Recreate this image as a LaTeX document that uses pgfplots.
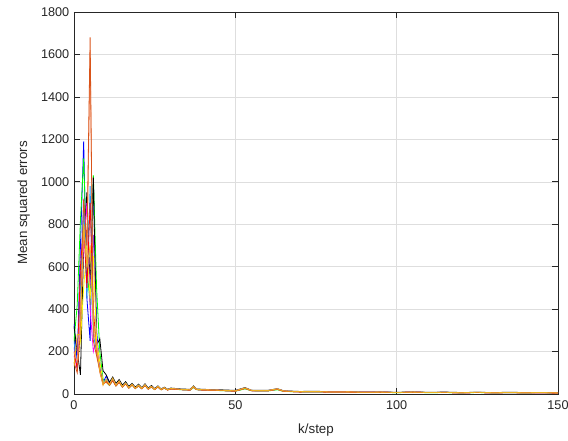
\documentclass[border=0pt]{standalone}
\usepackage{pgfplots}
\pgfplotsset{compat=1.18}
\usetikzlibrary{calc}
\usepackage{fontspec}
\setmainfont{Liberation Sans}
\definecolor{axgray}{rgb}{0.15,0.15,0.15}
\definecolor{c1}{rgb}{0,0,1}
\definecolor{c2}{rgb}{0,1,0}
\definecolor{c3}{rgb}{0,0,0}
\definecolor{c4}{rgb}{0.85,0.325,0.098}
\definecolor{c5}{rgb}{0.96,0.6,0.45}
\definecolor{c6}{rgb}{1,0,1}
\definecolor{c7}{rgb}{1,1,0}
\definecolor{c8}{rgb}{0.1,0.6,0.95}
\definecolor{c9}{rgb}{1,0,0}
\definecolor{c10}{rgb}{0.55,0.25,0.85}
\definecolor{c11}{rgb}{0.929,0.694,0.125}
\begin{document}
\begin{tikzpicture}
\begin{axis}[
  scale only axis,
  width=363pt, height=286.5pt,
  xmin=0, xmax=150, ymin=0, ymax=1800,
  xtick={0,50,100,150}, ytick={0,200,...,1800},
  tick align=inside, tick pos=both,
  major tick length=4.5pt,
  grid=major,
  major grid style={color=black!13, line width=0.4pt},
  axis line style={color=axgray, line width=0.5pt},
  every tick/.style={color=axgray, line width=0.5pt},
  tick label style={font=\fontsize{9.5}{11}\selectfont, color=axgray},
  xticklabel style={yshift=-1.5pt},
  label style={font=\fontsize{10}{12}\selectfont, color=axgray},
  /pgf/number format/assume math mode=true,
  scaled y ticks=false,
  yticklabel style={/pgf/number format/1000 sep={}},
  xlabel={k/step}, ylabel={Mean squared errors},
  xlabel style={yshift=-4pt},
  ylabel style={yshift=1.5pt},
  every axis plot/.append style={line width=0.6pt, mark=none},
]
\addplot[c1] coordinates {(0,330)(1,150)(2,700)(3,1190)(4,450)(5,250)(6,1020)(7,300)(8,120)(9,55)(10,85)(11,48)(12,70)(13,40)(14,58)(15,36)(16,50)(17,30)(18,44)(19,29)(20,40)(21,26)(22,42)(23,25)(24,35)(25,23)(26,34)(27,21)(28,29)(29,20)(30,25)(33,21)(36,19)(37,33)(38,21)(40,19)(45,17)(50,14)(53,26)(55,16)(60,15)(63,22)(65,13)(70,10)(75,11)(80,9)(85,9)(90,8)(95,8)(100,7)(105,8)(110,7)(115,7)(120,6)(125,7)(130,6)(135,6)(140,6)(145,6)(150,5)};
\addplot[c2] coordinates {(0,250)(1,420)(2,820)(3,1110)(4,600)(5,420)(6,1030)(7,500)(8,200)(9,70)(10,55)(11,40)(12,65)(13,38)(14,55)(15,32)(16,48)(17,28)(18,42)(19,26)(20,38)(21,25)(22,40)(23,23)(24,33)(25,21)(26,33)(27,20)(28,27)(29,19)(30,24)(33,20)(36,18)(37,30)(38,20)(40,18)(45,16)(50,13)(53,24)(55,15)(60,14)(63,20)(65,12)(70,10)(75,10)(80,8)(85,9)(90,7)(95,8)(100,6)(105,8)(110,6)(115,7)(120,5)(125,7)(130,5)(135,6)(140,5)(145,6)(150,4)};
\addplot[c3] coordinates {(0,320)(1,200)(2,90)(3,700)(4,950)(5,500)(6,1020)(7,230)(8,260)(9,110)(10,90)(11,55)(12,80)(13,50)(14,68)(15,42)(16,58)(17,36)(18,50)(19,32)(20,46)(21,30)(22,48)(23,28)(24,40)(25,25)(26,38)(27,24)(28,32)(29,22)(30,28)(33,24)(36,22)(37,38)(38,24)(40,22)(45,20)(50,17)(53,30)(55,18)(60,17)(63,25)(65,15)(70,12)(75,13)(80,10)(85,11)(90,9)(95,10)(100,8)(105,10)(110,8)(115,9)(120,7)(125,8)(130,7)(135,8)(140,7)(145,7)(150,6)};
\addplot[c10] coordinates {(0,220)(1,130)(2,550)(3,900)(4,700)(5,500)(6,750)(7,250)(8,150)(9,60)(10,62)(11,44)(12,72)(13,41)(14,60)(15,34)(16,51)(17,29)(18,45)(19,27)(20,41)(21,26)(22,43)(23,24)(24,35)(25,22)(26,35)(27,21)(28,29)(29,20)(30,25)(33,21)(36,19)(37,35)(38,21)(40,19)(45,17)(50,15)(53,27)(55,16)(60,15)(63,23)(65,13)(70,11)(75,11)(80,9)(85,9)(90,8)(95,9)(100,7)(105,8)(110,7)(115,8)(120,6)(125,7)(130,6)(135,7)(140,6)(145,6)(150,5)};
\addplot[c6] coordinates {(0,180)(1,120)(2,400)(3,700)(4,900)(5,400)(6,200)(7,260)(8,120)(9,45)(10,58)(11,43)(12,70)(13,40)(14,58)(15,33)(16,49)(17,29)(18,44)(19,27)(20,40)(21,26)(22,42)(23,24)(24,34)(25,22)(26,34)(27,21)(28,29)(29,19)(30,25)(33,21)(36,19)(37,34)(38,21)(40,19)(45,17)(50,14)(53,27)(55,16)(60,15)(63,23)(65,13)(70,10)(75,11)(80,9)(85,9)(90,8)(95,8)(100,7)(105,8)(110,7)(115,7)(120,6)(125,7)(130,6)(135,6)(140,6)(145,6)(150,5)};
\addplot[c7] coordinates {(0,150)(1,150)(2,250)(3,500)(4,700)(5,450)(6,650)(7,250)(8,150)(9,60)(10,55)(11,44)(12,68)(13,40)(14,57)(15,33)(16,48)(17,28)(18,43)(19,26)(20,39)(21,25)(22,41)(23,23)(24,34)(25,21)(26,34)(27,20)(28,28)(29,19)(30,24)(33,21)(36,19)(37,33)(38,21)(40,19)(45,17)(50,14)(53,26)(55,16)(60,15)(63,22)(65,13)(70,10)(75,11)(80,9)(85,9)(90,8)(95,8)(100,7)(105,8)(110,7)(115,7)(120,6)(125,7)(130,6)(135,6)(140,6)(145,6)(150,5)};
\addplot[c8] coordinates {(0,250)(1,120)(2,500)(3,900)(4,450)(5,980)(6,280)(7,200)(8,120)(9,50)(10,70)(11,46)(12,72)(13,42)(14,60)(15,35)(16,52)(17,30)(18,46)(19,28)(20,42)(21,27)(22,44)(23,25)(24,36)(25,22)(26,36)(27,22)(28,30)(29,20)(30,26)(33,22)(36,20)(37,36)(38,22)(40,20)(45,18)(50,15)(53,28)(55,17)(60,16)(63,24)(65,14)(70,11)(75,12)(80,9)(85,10)(90,8)(95,9)(100,7)(105,9)(110,7)(115,8)(120,6)(125,8)(130,6)(135,7)(140,6)(145,7)(150,5)};
\addplot[c9] coordinates {(0,200)(1,120)(2,600)(3,800)(4,500)(5,900)(6,400)(7,200)(8,110)(9,50)(10,58)(11,42)(12,66)(13,38)(14,56)(15,33)(16,48)(17,28)(18,43)(19,26)(20,39)(21,25)(22,41)(23,23)(24,34)(25,21)(26,34)(27,20)(28,28)(29,19)(30,24)(33,21)(36,19)(37,34)(38,21)(40,19)(45,17)(50,14)(53,27)(55,16)(60,15)(63,23)(65,13)(70,10)(75,11)(80,9)(85,9)(90,8)(95,8)(100,7)(105,8)(110,7)(115,7)(120,6)(125,7)(130,6)(135,7)(140,6)(145,6)(150,5)};
\addplot[c5] coordinates {(0,200)(1,150)(2,400)(3,800)(4,600)(5,1620)(6,300)(7,220)(8,100)(9,50)(10,60)(11,43)(12,64)(13,39)(14,57)(15,34)(16,49)(17,29)(18,44)(19,27)(20,40)(21,26)(22,42)(23,24)(24,35)(25,22)(26,35)(27,21)(28,29)(29,20)(30,25)(33,22)(36,20)(37,35)(38,22)(40,20)(45,18)(50,15)(53,28)(55,17)(60,16)(63,24)(65,14)(70,11)(75,12)(80,9)(85,10)(90,8)(95,9)(100,7)(105,9)(110,7)(115,8)(120,6)(125,8)(130,6)(135,7)(140,6)(145,7)(150,5)};
\addplot[c4] coordinates {(0,150)(1,100)(2,300)(3,920)(4,700)(5,1680)(6,250)(7,180)(8,110)(9,45)(10,60)(11,42)(12,62)(13,38)(14,56)(15,33)(16,48)(17,28)(18,43)(19,26)(20,39)(21,25)(22,41)(23,23)(24,34)(25,21)(26,34)(27,20)(28,28)(29,19)(30,24)(33,21)(36,19)(37,34)(38,21)(40,19)(45,17)(50,14)(53,27)(55,16)(60,15)(63,23)(65,13)(70,10)(75,11)(80,9)(85,9)(90,8)(95,8)(100,7)(105,8)(110,7)(115,7)(120,6)(125,7)(130,6)(135,7)(140,6)(145,6)(150,5)};
\addplot[c11] coordinates {(0,130)(1,280)(2,280)(3,800)(4,600)(5,700)(6,350)(7,220)(8,110)(9,40)(10,70)(11,45)(12,75)(13,42)(14,62)(15,35)(16,52)(17,30)(18,46)(19,28)(20,42)(21,27)(22,44)(23,25)(24,36)(25,22)(26,36)(27,22)(28,30)(29,20)(30,26)(33,22)(36,20)(37,36)(38,22)(40,20)(45,18)(50,15)(53,28)(55,17)(60,16)(63,24)(65,14)(70,11)(75,12)(80,9)(85,10)(90,8)(95,9)(100,7)(105,9)(110,7)(115,8)(120,6)(125,8)(130,6)(135,7)(140,6)(145,7)(150,5)};
\end{axis}
\pgfresetboundingbox
\useasboundingbox ($(current axis.south west)+(-55.5pt,-35.25pt)$) rectangle ($(current axis.north east)+(7.5pt,9pt)$);
\end{tikzpicture}
\end{document}
